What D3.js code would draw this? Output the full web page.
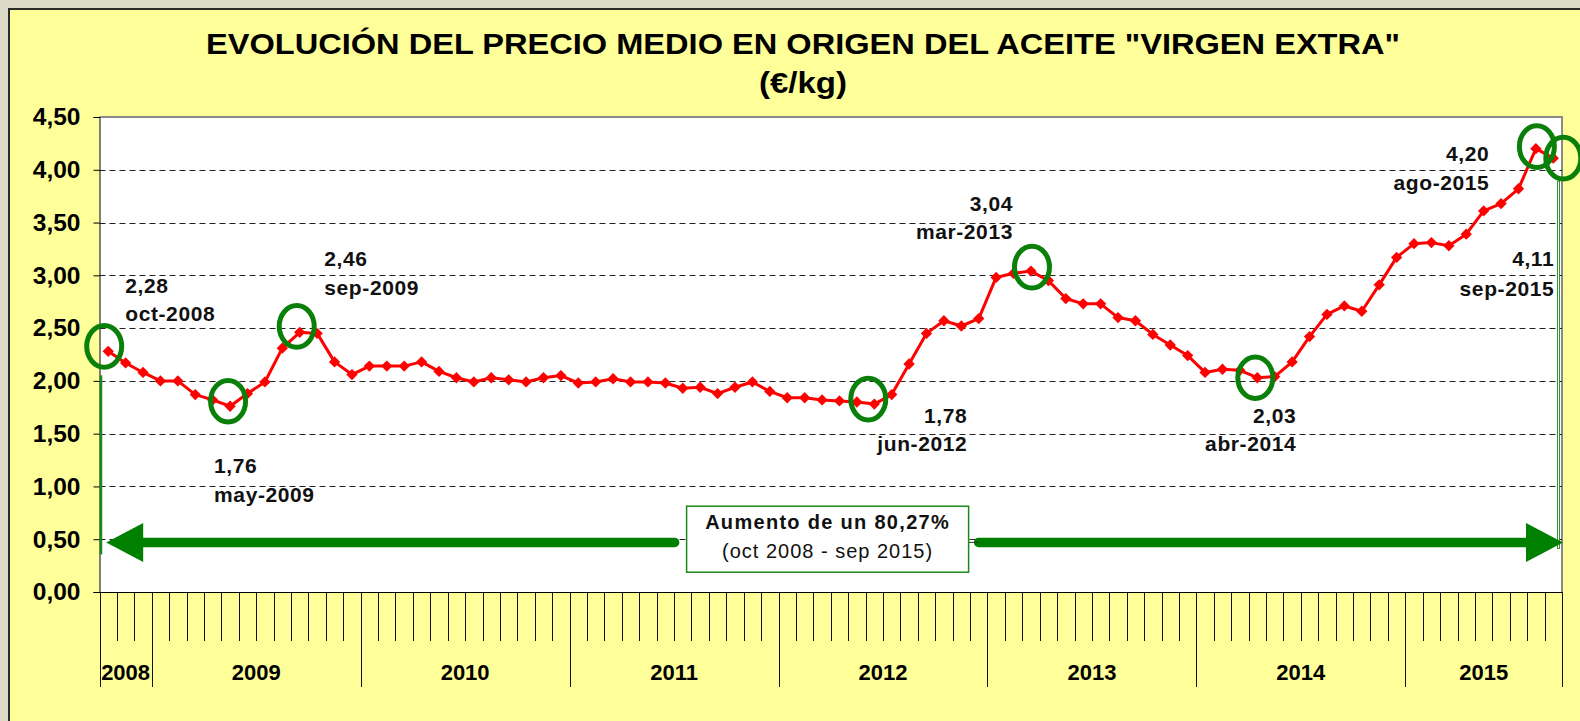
<!DOCTYPE html>
<html><head><meta charset="utf-8">
<script src="https://cdn.jsdelivr.net/npm/d3@7"></script>
<style>
html,body{margin:0;padding:0;background:#e0ddd0;}
svg{display:block;font-family:"Liberation Sans",Arial,sans-serif;}
</style></head><body>
<svg id="c" width="1580" height="721"></svg>
<script>
// ---------- DATA ----------
const years = ["2008","2009","2010","2011","2012","2013","2014","2015"];
const monthsInYear = [3,12,12,12,12,12,12,9];
const monthNames = ["ene","feb","mar","abr","may","jun","jul","ago","sep","oct","nov","dic"];
const firstMonth = 9; // oct (0-based)
const prices = [
 2.28,2.17,2.08,                                           // 2008 oct-dic
 2.00,2.00,1.87,1.82,1.76,1.88,1.99,2.31,2.46,2.45,2.18,2.06, // 2009
 2.14,2.14,2.14,2.18,2.09,2.03,1.99,2.03,2.01,1.99,2.03,2.05, // 2010
 1.98,1.99,2.02,1.99,1.99,1.98,1.93,1.94,1.88,1.94,1.99,1.90, // 2011
 1.84,1.84,1.82,1.81,1.80,1.78,1.87,2.16,2.45,2.57,2.52,2.59, // 2012
 2.98,3.02,3.04,2.95,2.78,2.73,2.73,2.60,2.57,2.44,2.34,2.24, // 2013
 2.08,2.11,2.10,2.03,2.04,2.18,2.42,2.63,2.71,2.66,2.91,3.17, // 2014
 3.30,3.31,3.28,3.39,3.61,3.68,3.82,4.20,4.11                 // 2015 ene-sep
];
const yTicks = [0,0.5,1,1.5,2,2.5,3,3.5,4,4.5];
const highlighted = [0,7,11,44,53,66,82,83];
const titleLines = ['EVOLUCIÓN DEL PRECIO MEDIO EN ORIGEN DEL ACEITE "VIRGEN EXTRA"','(€/kg)'];
const boxLines = ["Aumento de un 80,27%","(oct 2008 - sep 2015)"];
const arrowLevel = 0.47;

// month labels derived from the calendar
const monthLabels = prices.map((_,i)=>{
  const m = (firstMonth + i) % 12;
  const yr = 2008 + Math.floor((firstMonth + i)/12);
  return monthNames[m] + "-" + yr;
});

// ---------- LAYOUT (styling only) ----------
const L = {left:99.5, right:1562, top:117, bottom:592};
// label layout per highlighted point: [dx, dy(value line), dy(date line), anchor], ellipse offset [ox, oy]
const labelLayout = [
  [17,-58.6,-30,"start",[-4,-5]],
  [-16,67,95.5,"start",[-2,-5]],
  [24.6,-66,-37.5,"start",[-3,-6]],
  [93,19,47,"end",[-6,-5]],
  [-18,-60,-32,"end",[1,-4]],
  [39,45,73,"end",[-2,0]],
  [-46.5,12.6,41,"end",[1,-2]],
  [1,108,138,"end",[10,0]]
];

const svg = d3.select("#c");
// outer panel
svg.append("rect").attr("x",0).attr("y",0).attr("width",1580).attr("height",721).attr("fill","#dcd9c8");
svg.append("rect").attr("x",9).attr("y",9).attr("width",1600).attr("height",740)
   .attr("fill","#ffff99").attr("stroke","#2a2a2a").attr("stroke-width",2);

// scales
const x = d3.scaleBand().domain(d3.range(prices.length)).range([L.left,L.right]).padding(0);
const bw = x.bandwidth();
const cx = i => x(i) + bw/2;
const y = d3.scaleLinear().domain([0,4.5]).range([L.bottom,L.top]);

// plot area
svg.append("rect").attr("x",L.left).attr("y",L.top).attr("width",L.right-L.left).attr("height",L.bottom-L.top)
   .attr("fill","#ffffff");
svg.append("path").attr("d",`M${L.left},${L.top}H${L.right}V${L.bottom}`).attr("fill","none")
   .attr("stroke","#8a8a8a").attr("stroke-width",2);

// gridlines
svg.append("g").selectAll("line").data(yTicks.filter(t=>t>0 && t<4.5)).join("line")
  .attr("x1",L.left).attr("x2",L.right)
  .attr("y1",d=>Math.round(y(d))+0.5).attr("y2",d=>Math.round(y(d))+0.5)
  .attr("stroke","#222").attr("stroke-width",1).attr("stroke-dasharray","6,4");

// y axis
const fmt = d => d3.format(".2f")(d).replace(".",",");
const yAxis = svg.append("g").attr("transform",`translate(${L.left},0)`)
  .call(d3.axisLeft(y).tickValues(yTicks).tickSize(6).tickPadding(13).tickFormat(fmt));
yAxis.select(".domain").attr("stroke","#000");
yAxis.selectAll(".tick line").attr("stroke","#000");
yAxis.selectAll("text").attr("font-size",24.5).attr("font-weight","bold").attr("fill","#000")
  .attr("font-family","'Liberation Sans',Arial,sans-serif");

// x axis: month boundaries
const boundaries = d3.range(prices.length+1);
const yearStartIdx = [];
{ let acc=0; monthsInYear.forEach(n=>{yearStartIdx.push(acc); acc+=n;}); yearStartIdx.push(acc); }
const bx = i => i < prices.length ? x(i) : L.right;
svg.append("g").selectAll("line").data(boundaries).join("line")
  .attr("x1",i=>Math.round(bx(i))+0.5).attr("x2",i=>Math.round(bx(i))+0.5)
  .attr("y1",L.bottom).attr("y2",i=> yearStartIdx.includes(i) ? 687 : 641)
  .attr("stroke","#111").attr("stroke-width",1);
svg.append("line").attr("x1",L.left).attr("x2",L.right).attr("y1",L.bottom+0.5).attr("y2",L.bottom+0.5)
  .attr("stroke","#000").attr("stroke-width",1.2);
// year labels
svg.append("g").selectAll("text").data(years).join("text")
  .attr("x",(d,k)=> (bx(yearStartIdx[k]) + bx(yearStartIdx[k+1]))/2)
  .attr("y",680).attr("text-anchor","middle")
  .attr("font-size",22).attr("font-weight","bold").attr("fill","#000").text(d=>d);

// green vertical guide lines
svg.append("line").attr("x1",L.left+1.5).attr("x2",L.left+1.5)
  .attr("y1",y(prices[0])+24).attr("y2",y(arrowLevel)+12)
  .attr("stroke","#1a8a1a").attr("stroke-width",2.5);
svg.append("rect").attr("x",L.right-4.5).attr("y",y(prices[prices.length-1])+23)
  .attr("width",2).attr("height",y(arrowLevel)+6-(y(prices[prices.length-1])+23))
  .attr("fill","#ffffff").attr("stroke","#1a8a1a").attr("stroke-width",0.9);

// arrow
const green = "#008000";
const ay = y(arrowLevel);
const tipL = cx(0) - 2, tipR = L.right + 1;
const headLen = 37, headHalf = 19.5;
const boxW = 282, boxH = 66;
const boxCx = (tipL + tipR)/2 - 7;
const boxY = y(0.5) - boxH/2;
svg.append("path").attr("d",`M${tipL},${ay}L${tipL+headLen},${ay-headHalf}L${tipL+headLen},${ay+headHalf}Z`).attr("fill",green);
svg.append("path").attr("d",`M${tipR},${ay}L${tipR-headLen},${ay-headHalf}L${tipR-headLen},${ay+headHalf}Z`).attr("fill",green);
svg.append("line").attr("x1",tipL+headLen-2).attr("x2",boxCx-boxW/2-12).attr("y1",ay).attr("y2",ay)
  .attr("stroke",green).attr("stroke-width",9.5).attr("stroke-linecap","round");
svg.append("line").attr("x1",boxCx+boxW/2+10).attr("x2",tipR-headLen+2).attr("y1",ay).attr("y2",ay)
  .attr("stroke",green).attr("stroke-width",9.5).attr("stroke-linecap","round");
svg.append("line").attr("x1",boxCx+boxW/2).attr("x2",boxCx+boxW/2+10).attr("y1",ay).attr("y2",ay)
  .attr("stroke","#333").attr("stroke-width",1);
svg.append("rect").attr("x",boxCx-boxW/2).attr("y",boxY).attr("width",boxW).attr("height",boxH)
  .attr("fill","#fff").attr("stroke","#1a8a1a").attr("stroke-width",1.5);
svg.append("text").attr("x",boxCx).attr("y",boxY+22.5).attr("text-anchor","middle")
  .attr("font-size",20).attr("font-weight","bold").attr("letter-spacing",1.3).attr("fill","#111").text(boxLines[0]);
svg.append("text").attr("x",boxCx).attr("y",boxY+52).attr("text-anchor","middle")
  .attr("font-size",20).attr("letter-spacing",1).attr("fill","#111").text(boxLines[1]);

// data line
svg.append("path").datum(prices)
  .attr("d",d3.line().x((d,i)=>cx(i)).y(d=>y(d)))
  .attr("fill","none").attr("stroke","#ff0000").attr("stroke-width",3).attr("stroke-linejoin","round");
svg.append("g").selectAll("path").data(prices).join("path")
  .attr("d",d3.symbol(d3.symbolSquare,64))
  .attr("transform",(d,i)=>`translate(${cx(i)},${y(d)}) rotate(45)`)
  .attr("fill","#ff0000");

// highlight ellipses
svg.append("g").selectAll("ellipse").data(highlighted).join("ellipse")
  .attr("cx",(d,k)=>cx(d)+labelLayout[k][4][0]).attr("cy",(d,k)=>y(prices[d])+labelLayout[k][4][1])
  .attr("rx",17.5).attr("ry",20.8)
  .attr("fill","none").attr("stroke","#0a800a").attr("stroke-width",5);

// labels
const lg = svg.append("g").attr("font-size",21).attr("font-weight","bold").attr("fill","#111");
highlighted.forEach((d,k)=>{
  const [dx,dy1,dy2,anc] = labelLayout[k];
  lg.append("text").attr("x",cx(d)+dx).attr("y",y(prices[d])+dy1).attr("text-anchor",anc)
    .attr("letter-spacing",0.6).text(fmt(prices[d]));
  lg.append("text").attr("x",cx(d)+dx).attr("y",y(prices[d])+dy2).attr("text-anchor",anc)
    .attr("letter-spacing",0.6).text(monthLabels[d]);
});

// title
svg.append("text").attr("x",803).attr("y",54).attr("text-anchor","middle")
  .attr("font-size",30).attr("font-weight","bold").attr("fill","#000")
  .attr("textLength",1194).attr("lengthAdjust","spacingAndGlyphs").text(titleLines[0]);
svg.append("text").attr("x",803).attr("y",93).attr("text-anchor","middle")
  .attr("font-size",30).attr("font-weight","bold").attr("fill","#000")
  .attr("textLength",88).attr("lengthAdjust","spacingAndGlyphs").text(titleLines[1]);
</script>
</body></html>
